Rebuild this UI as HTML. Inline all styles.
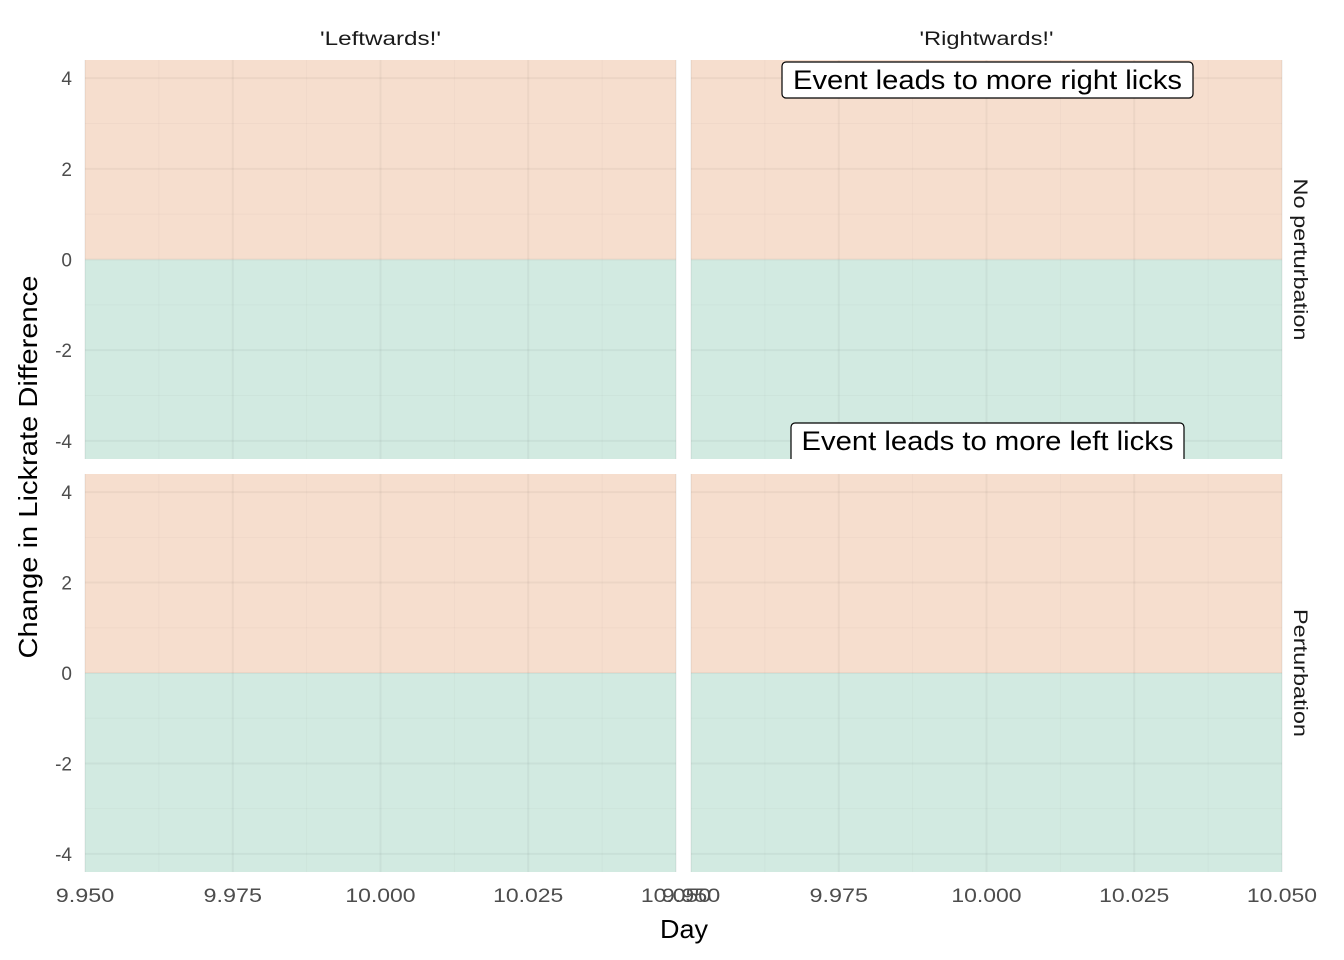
<!DOCTYPE html>
<html><head><meta charset="utf-8"><style>body{margin:0;background:#fff}svg{display:block;font-family:"Liberation Sans",sans-serif}</style></head>
<body>
<svg id="c" width="1344" height="960"></svg>
<script>
const xTicks=[9.95,9.975,10,10.025,10.05];
const xTickLabels=["9.950","9.975","10.000","10.025","10.050"];
const yTicks=[-4,-2,0,2,4];
const yTickLabels=["-4","-2","0","2","4"];
const colLabels=["'Leftwards!'","'Rightwards!'"];
const rowLabels=["No perturbation","Perturbation"];
const xDomain=[9.95,10.05], yDomain=[-4.4,4.4];
const NS="http://www.w3.org/2000/svg", svg=document.getElementById('c');
function mk(t,a,p){const e=document.createElementNS(NS,t);for(const k in a)e.setAttribute(k,a[k]);(p||svg).appendChild(e);return e;}
const cols=[[85,676],[691,1282]], rows=[[60,459],[474,872]];
rows.forEach((r,ri)=>cols.forEach((c,ci)=>{
  const X=v=>c[0]+(v-xDomain[0])/(xDomain[1]-xDomain[0])*(c[1]-c[0]);
  const Y=v=>r[1]-(v-yDomain[0])/(yDomain[1]-yDomain[0])*(r[1]-r[0]);
  const g=mk('g',{});
  
  
  const up=mk('rect',{x:c[0],y:r[0],width:c[1]-c[0],height:Y(0)-r[0],fill:'#f6dece'},g);
  
  
  const dn=mk('rect',{x:c[0],y:Y(0),width:c[1]-c[0],height:r[1]-Y(0),fill:'#d2eae1'},g);
  
  
  for(let i=0;i<xTicks.length-1;i++){const m=(xTicks[i]+xTicks[i+1])/2;mk('line',{x1:X(m),x2:X(m),y1:r[0],y2:r[1],stroke:'rgba(0,0,0,0.025)','stroke-width':1},g);}
  for(let i=0;i<yTicks.length-1;i++){const m=(yTicks[i]+yTicks[i+1])/2;mk('line',{x1:c[0],x2:c[1],y1:Y(m),y2:Y(m),stroke:'rgba(0,0,0,0.025)','stroke-width':1},g);}
  xTicks.forEach(v=>mk('line',{x1:X(v),x2:X(v),y1:r[0],y2:r[1],stroke:'rgba(0,0,0,0.04)','stroke-width':2},g));
  yTicks.forEach(v=>mk('line',{x1:c[0],x2:c[1],y1:Y(v),y2:Y(v),stroke:'rgba(0,0,0,0.04)','stroke-width':2},g));
  if(ci==0) yTicks.forEach((v,i)=>{const t=mk('text',{x:72,y:Y(v)+7,'text-anchor':'end','font-size':19,fill:'#4d4d4d'});t.textContent=yTickLabels[i];});
  if(ri==1) xTicks.forEach((v,i)=>{const t=mk('text',{x:X(v),y:902,'text-anchor':'middle','font-size':19,fill:'#4d4d4d',textLength:xTickLabels[i].length*11.7,lengthAdjust:'spacingAndGlyphs'});t.textContent=xTickLabels[i];});
}));
colLabels.forEach((l,i)=>{const t=mk('text',{x:(cols[i][0]+cols[i][1])/2,y:45,'text-anchor':'middle','font-size':19,fill:'#1a1a1a',textLength:i?134:121,lengthAdjust:'spacingAndGlyphs'});t.textContent=l;});
rowLabels.forEach((l,i)=>{const cy=(rows[i][0]+rows[i][1])/2;const t=mk('text',{x:1299,y:cy,'text-anchor':'middle','font-size':19,fill:'#1a1a1a',transform:`rotate(90 1299 ${cy})`,'dominant-baseline':'middle',textLength:i?128:162,lengthAdjust:'spacingAndGlyphs'});t.textContent=l;});
mk('clipPath',{id:'cp'}).appendChild(document.createElementNS(NS,'rect'));
const cr=svg.querySelector('#cp rect');cr.setAttribute('x',691);cr.setAttribute('y',60);cr.setAttribute('width',591);cr.setAttribute('height',399);
const ag=mk('g',{'clip-path':'url(#cp)'});
[[782,62,411,36,'Event leads to more right licks',389],[791,423,393,40,'Event leads to more left licks',372]].forEach(a=>{
  const r=mk('rect',{x:a[0],y:a[1],width:a[2],height:a[3],rx:4,fill:'#fff',stroke:'#000','stroke-width':1.2},ag);
  
  const t=mk('text',{x:a[0]+a[2]/2,y:a[1]+27,'text-anchor':'middle','font-size':27,fill:'#000',textLength:a[5],lengthAdjust:'spacingAndGlyphs'},ag);t.textContent=a[4];
});
const xt=mk('text',{x:684,y:938,'text-anchor':'middle','font-size':26,fill:'#000',textLength:48,lengthAdjust:'spacingAndGlyphs'});xt.textContent='Day';

const yt=mk('text',{x:37,y:467,'text-anchor':'middle','font-size':26,fill:'#000',transform:'rotate(-90 37 467)',textLength:383,lengthAdjust:'spacingAndGlyphs'});yt.textContent='Change in Lickrate Difference';

</script>
</body></html>
